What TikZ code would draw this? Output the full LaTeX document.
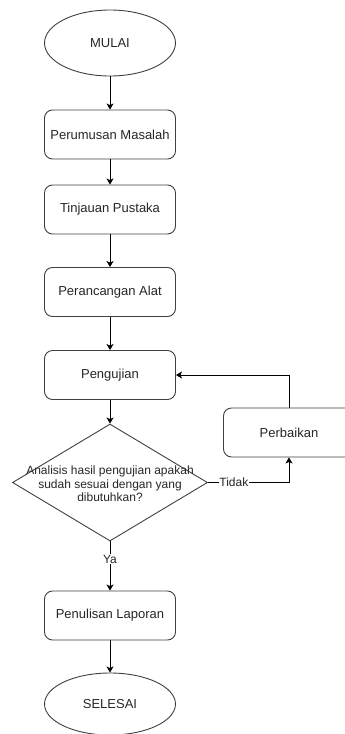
\documentclass[tikz,border=0pt]{standalone}
\usepackage{fontspec}
\setmainfont{Liberation Sans}
\usetikzlibrary{shapes.geometric,arrows.meta}
\begin{document}
\begin{tikzpicture}[x=1pt,y=-1pt,
  every node/.style={font=\fontsize{13}{15}\selectfont, text=black!85},
  proc/.style={draw=black!75, line width=0.9pt, rounded corners=8pt,
    minimum width=131pt, minimum height=49pt, inner sep=0pt},
  term/.style={ellipse, draw=black!75, line width=0.9pt,
    minimum width=131pt, inner sep=0pt},
  decision/.style={diamond, draw=black!75, line width=0.9pt,
    minimum width=195pt, minimum height=117pt, inner sep=0pt},
  small/.style={font=\fontsize{12}{13.5}\selectfont},
  flow/.style={draw=black, line width=0.95pt,
    -{Stealth[length=6pt,width=7pt,inset=1.5pt]}},
  tag/.style={small, fill=white, inner sep=0.5pt}
]
\clip (0,0) rectangle (345,734);
\useasboundingbox (0,0) rectangle (345,734);

% main column
\node[term, minimum height=66pt] (mulai) at (110,43) {MULAI};
\node[proc] (rumus) at (110,134.5) {Perumusan Masalah};
\node[proc] (pustaka) at (110,209.5) {Tinjauan Pustaka};
\node[proc] (rancang) at (110,292) {Perancangan Alat};
\node[proc] (uji) at (110,375) {Pengujian};
\node[decision] (cek) at (110,482.5) {};
\node[small, align=center] (cektext) at (110,484) {Analisis hasil pengujian apakah\\sudah sesuai dengan yang\\dibutuhkan?};
\node[proc] (lapor) at (110,615.5) {Penulisan Laporan};
\node[term, minimum height=62pt] (selesai) at (110,704) {SELESAI};

% repair branch
\node[proc] (baik) at (289,432.5) {Perbaikan};

% connectors
\draw[flow] (mulai) -- (rumus);
\draw[flow] (rumus) -- (pustaka);
\draw[flow] (pustaka) -- (rancang);
\draw[flow] (rancang) -- (uji);
\draw[flow] (uji) -- (cek.north);
\draw[flow] (cek.south) -- node[tag, pos=0.36] (ya) {Ya} (lapor);
\draw[flow] (lapor) -- (selesai);
\draw[flow] (cek.east) -- node[tag, pos=0.32] (tidak) {Tidak} (cek.east -| baik.south) -- (baik.south);
\draw[flow] (baik.north) |- (uji.east);
\end{tikzpicture}
\end{document}
